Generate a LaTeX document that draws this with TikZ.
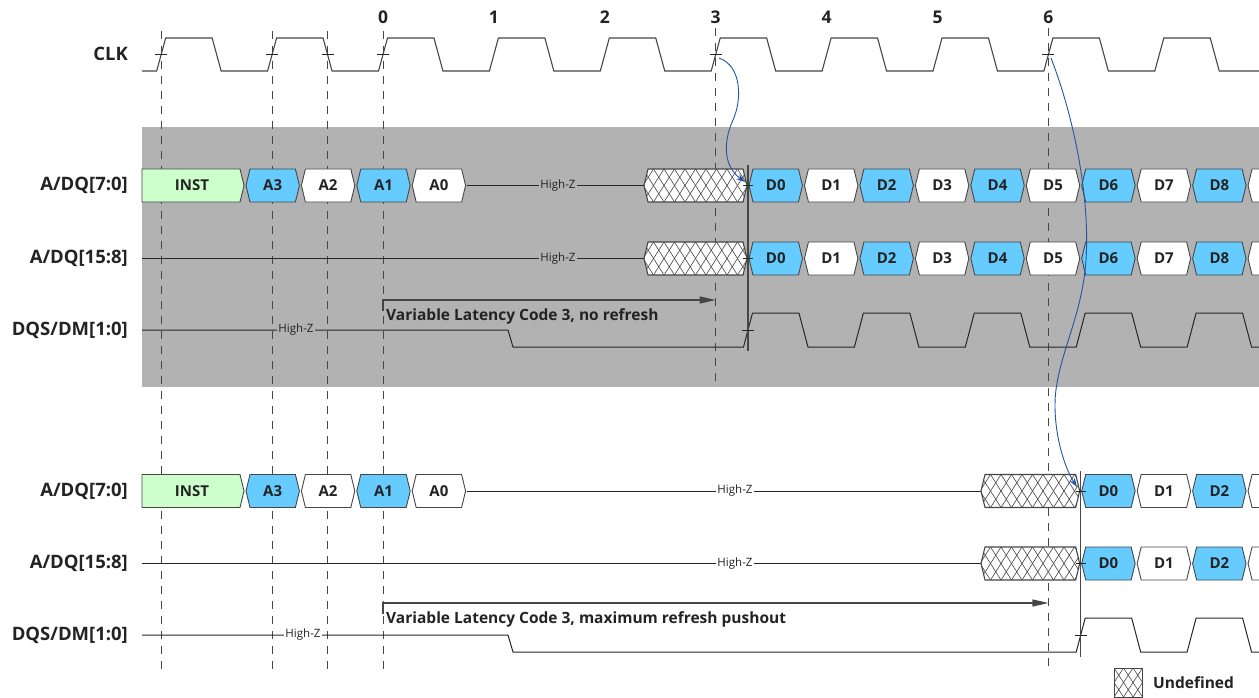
\documentclass[tikz,border=0pt]{standalone}
\usepackage{fontspec}
\setmainfont{Open Sans}
\usetikzlibrary{arrows.meta}
\definecolor{cellblue}{RGB}{102,204,255}
\definecolor{cellgreen}{RGB}{204,255,204}
\definecolor{bggray}{RGB}{178,178,178}
\definecolor{edgegray}{RGB}{70,70,70}
\definecolor{txtdark}{RGB}{35,35,35}
\definecolor{curveblue}{RGB}{35,85,165}
\tikzset{
 rowlabel/.style={anchor=east, font=\fontsize{18.5}{21}\selectfont\bfseries, text=txtdark, inner sep=0pt},
 ticknum/.style={font=\fontsize{17.5}{20}\selectfont\bfseries, text=txtdark, inner sep=0pt},
 celltext/.style={font=\fontsize{15}{18}\selectfont\bfseries, text=txtdark, inner sep=0pt},
 celledge/.style={draw=edgegray, line width=0.9pt},
 hiz/.style={font=\fontsize{11.5}{13}\selectfont, text=txtdark, inner sep=1.5pt},
 sigline/.style={draw=black!85, line width=1pt},
 clkline/.style={draw=edgegray, line width=1.1pt},
 gridline/.style={draw=edgegray, line width=1pt, dash pattern=on 8pt off 7pt},
 marker/.style={draw=black!85, line width=1pt},
 edgebar/.style={draw=edgegray, line width=1.4pt},
 latency/.style={draw=edgegray, line width=1.2pt, -{Triangle[length=16pt,width=7pt]}},
 latlabel/.style={anchor=west, font=\fontsize{15.5}{18}\selectfont\bfseries, text=txtdark, inner sep=0pt},
 causal/.style={draw=curveblue, line width=0.9pt, -{Stealth[length=9pt,width=6pt]}},
 hatchline/.style={draw=edgegray, line width=0.6pt},
}
% bus cell: name, x0, x1, y, fill, text
\newcommand\bcell[6]{%
 \filldraw[celledge, fill=#5] ({#2+1},#4) -- ({#2+5},{#4-16.5}) -- ({#3-5},{#4-16.5}) -- ({#3-1},#4) -- ({#3-5},{#4+16.5}) -- ({#2+5},{#4+16.5}) -- cycle;
 \node[celltext] (#1) at ({(#2+#3)/2},#4) {#6};}
% undefined (hatched) cell: name, x0, x1, y
\newcommand\ucell[4]{%
 \begin{scope}
 \clip ({#2+1},#4) -- ({#2+5},{#4-16.5}) -- ({#3-5},{#4-16.5}) -- ({#3-1},#4) -- ({#3-5},{#4+16.5}) -- ({#2+5},{#4+16.5}) -- cycle;
 \fill[white] (#2,{#4-17}) rectangle (#3,{#4+17});
 \foreach \i in {-2,...,10}{
   \draw[hatchline] ({#2+\i*10.5},{#4-16.5}) -- ++(21,33);
   \draw[hatchline] ({#2+\i*10.5},{#4+16.5}) -- ++(21,-33);}
 \end{scope}
 \draw[celledge, line width=1.1pt] ({#2+1},#4) -- ({#2+5},{#4-16.5}) -- ({#3-5},{#4-16.5}) -- ({#3-1},#4) -- ({#3-5},{#4+16.5}) -- ({#2+5},{#4+16.5}) -- cycle;
 \coordinate (#1) at ({(#2+#3)/2},#4);}
\begin{document}
\begin{tikzpicture}[x=1pt,y=-1pt]
\useasboundingbox (0,0) rectangle (1259,698);
\fill[bggray] (142,127) rectangle (1259,387);

% dashed reference lines
\foreach \x in {161.2,272.1,327.5,383} \draw[gridline] (\x,31) -- (\x,670);
\draw[gridline] (715.7,28) -- (715.7,386);
\draw[gridline] (1048.4,28) -- (1048.4,670);

% clock numbers
\foreach \n/\x in {0/383,1/493.9,2/604.8,3/715.7,4/826.6,5/937.5,6/1048.4}
  \node[ticknum] (num\n) at (\x,17) {\n};

% row labels
\node[rowlabel] (lclk) at (128,54) {CLK};
\node[rowlabel] (la1) at (128,185.5) {A/DQ[7:0]};
\node[rowlabel] (lb1) at (128,258.5) {A/DQ[15:8]};
\node[rowlabel] (lc1) at (128,330) {DQS/DM[1:0]};
\node[rowlabel] (la2) at (128,491) {A/DQ[7:0]};
\node[rowlabel] (lb2) at (128,563.5) {A/DQ[15:8]};
\node[rowlabel] (lc2) at (128,635) {DQS/DM[1:0]};

% clock
\draw[clkline] (142,71) \foreach \k in {0,...,9} { -- ({161.2+110.9*\k-4.5},71) -- ({161.2+110.9*\k+4.5},38) -- ({216.65+110.9*\k-4.5},38) -- ({216.65+110.9*\k+4.5},71) } -- (1259,71);
\foreach \x in {161.2,272.1,327.5,383,715.7,1048.4} \draw[marker] ({\x-6},54.5) -- ({\x+6},54.5);

% ---------- top section ----------
\draw[sigline] (466.6,185.5) -- (644,185.5);
\node[hiz, fill=bggray] (hz1) at (558,185.5) {High-Z};
\draw[sigline] (142,258.5) -- (644,258.5);
\node[hiz, fill=bggray] (hz2) at (558,258.5) {High-Z};
\draw[sigline] (142,330) -- (508,330) -- (513,347) \foreach \k in {0,...,4} { -- ({748+110.9*\k-4.5},347) -- ({748+110.9*\k+4.5},313) -- ({803.45+110.9*\k-4.5},313) -- ({803.45+110.9*\k+4.5},347) } -- (1259,347);
\node[hiz, fill=bggray] (hz3) at (296,330) {High-Z};

\filldraw[celledge, fill=cellgreen] (142,169) -- (240,169) -- (244,185.5) -- (240,202) -- (142,202) -- cycle;
\node[celltext] (instT) at (192,185.5) {INST};
\bcell{a3T}{245}{300.4}{185.5}{cellblue}{A3}
\bcell{a2T}{300.4}{355.8}{185.5}{white}{A2}
\bcell{a1T}{355.8}{411.2}{185.5}{cellblue}{A1}
\bcell{a0T}{411.2}{466.6}{185.5}{white}{A0}
\ucell{uA}{643}{748}{185.5}
\ucell{uB}{643}{748}{258.5}
\foreach \k/\f in {0/cellblue,1/white,2/cellblue,3/white,4/cellblue,5/white,6/cellblue,7/white,8/cellblue}{
  \bcell{dA\k}{748+55.45*\k}{803.45+55.45*\k}{185.5}{\f}{D\k}
  \bcell{dB\k}{748+55.45*\k}{803.45+55.45*\k}{258.5}{\f}{D\k}}
\bcell{dA9}{1247.05}{1302.5}{185.5}{white}{}
\bcell{dB9}{1247.05}{1302.5}{258.5}{white}{}

\draw[edgebar] (748,165) -- (748,351);
\foreach \y in {185.5,258.5} \draw[marker] (743,\y) -- (753,\y);
\draw[marker] (742,330) -- (754,330);

\coordinate (vlA) at (383,300);
\coordinate (vlB) at (715.7,300);
\draw[latency] (383,311) -- (vlA) -- (vlB);
\node[latlabel] (txtA) at (386,316) {Variable Latency Code 3, no refresh};

% ---------- bottom section ----------
\draw[sigline] (466.6,491) -- (981,491);
\node[hiz, fill=white] (hz4) at (735,491) {High-Z};
\draw[sigline] (142,563.5) -- (981,563.5);
\node[hiz, fill=white] (hz5) at (735,563.5) {High-Z};
\draw[sigline] (142,635) -- (508,635) -- (513,652) \foreach \k in {0,1} { -- ({1080.7+110.9*\k-4.5},652) -- ({1080.7+110.9*\k+4.5},618) -- ({1136.15+110.9*\k-4.5},618) -- ({1136.15+110.9*\k+4.5},652) } -- (1259,652);
\node[hiz, fill=white] (hz6) at (303,635) {High-Z};

\filldraw[celledge, fill=cellgreen] (142,474.5) -- (240,474.5) -- (244,491) -- (240,507.5) -- (142,507.5) -- cycle;
\node[celltext] (instB) at (192,491) {INST};
\bcell{a3B}{245}{300.4}{491}{cellblue}{A3}
\bcell{a2B}{300.4}{355.8}{491}{white}{A2}
\bcell{a1B}{355.8}{411.2}{491}{cellblue}{A1}
\bcell{a0B}{411.2}{466.6}{491}{white}{A0}
\ucell{uC}{980}{1080.7}{491}
\ucell{uD}{980}{1080.7}{563.5}
\foreach \k/\f in {0/cellblue,1/white,2/cellblue}{
  \bcell{dC\k}{1080.7+55.45*\k}{1136.15+55.45*\k}{491}{\f}{D\k}
  \bcell{dD\k}{1080.7+55.45*\k}{1136.15+55.45*\k}{563.5}{\f}{D\k}}
\bcell{dC3}{1247.05}{1302.5}{491}{white}{}
\bcell{dD3}{1247.05}{1302.5}{563.5}{white}{}

\draw[edgebar] (1080.7,471) -- (1080.7,657);
\foreach \y in {491,563.5} \draw[marker] (1075.7,\y) -- (1085.7,\y);
\draw[marker] (1074.7,635) -- (1086.7,635);

\coordinate (vlC) at (383,603);
\coordinate (vlD) at (1048.4,603);
\draw[latency] (383,614) -- (vlC) -- (vlD);
\node[latlabel] (txtB) at (386,619) {Variable Latency Code 3, maximum refresh pushout};

% ---------- causal arrows ----------
\coordinate (ck3) at (719,58);
\coordinate (inA) at (745,182);
\draw[causal] (ck3) .. controls (742,66) and (742,100) .. (733,120) .. controls (724,140) and (722,165) .. (inA);
\coordinate (ck6) at (1051,58);
\coordinate (inC) at (1077,487);
\draw[causal] (ck6) .. controls (1075,120) and (1090,200) .. (1086,260) .. controls (1082,320) and (1055,360) .. (1055,405) .. controls (1055,440) and (1066,470) .. (inC);

% ---------- legend ----------
\begin{scope}
\clip (1114,668) rectangle (1142,697);
\fill[white] (1114,668) rectangle (1142,697);
\foreach \i in {-2,...,3}{
  \draw[hatchline] ({1114+\i*9.5},668) -- ++(19,29);
  \draw[hatchline] ({1114+\i*9.5},697) -- ++(19,-29);}
\end{scope}
\draw[celledge] (1114,668) rectangle (1142,697);
\node[latlabel] (undef) at (1153,683) {Undefined};
\end{tikzpicture}
\end{document}
